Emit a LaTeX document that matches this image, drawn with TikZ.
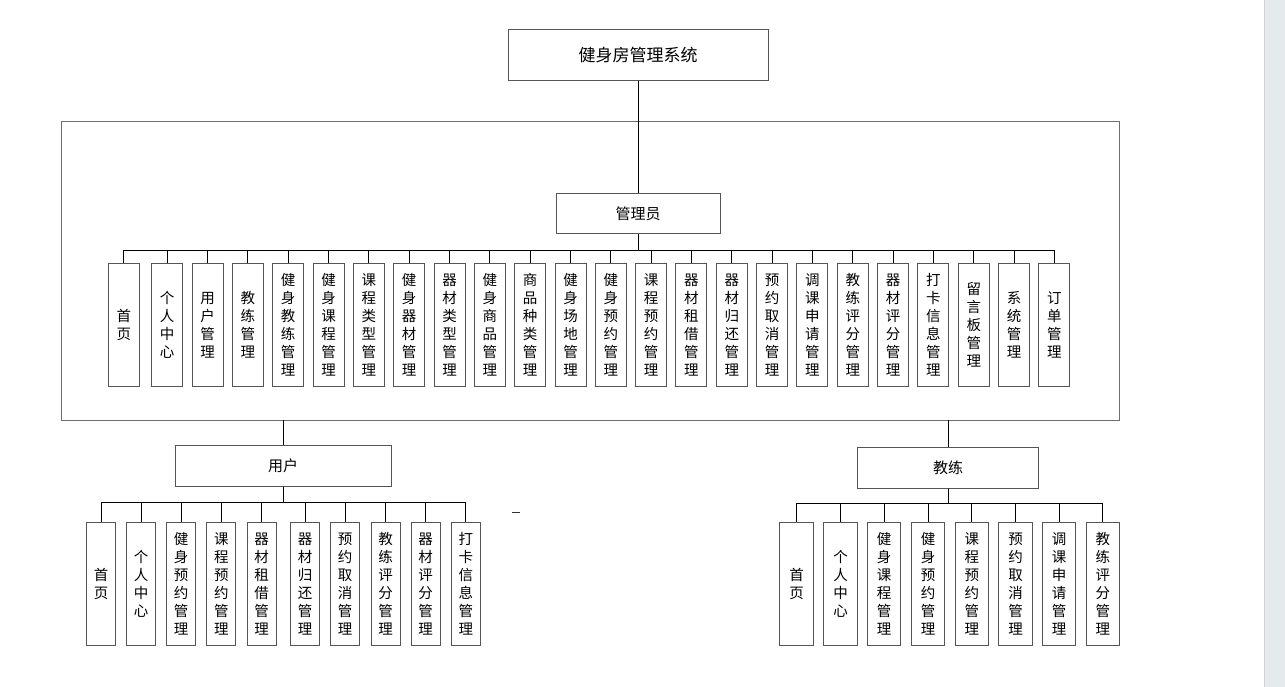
\documentclass[tikz,border=0pt]{standalone}
\usepackage{fontspec}
\newfontfamily\cjk{Noto Sans CJK SC}
\definecolor{boxgray}{HTML}{555555}
\definecolor{framegray}{HTML}{6E6E6E}
\definecolor{stripgray}{HTML}{E5EAED}
\begin{document}
\begin{tikzpicture}[x=1pt,y=-1pt,
  box/.style={draw=boxgray, line width=1pt, fill=white, inner sep=0pt,
    font=\cjk\fontsize{15}{18}\selectfont},
  leaf/.style={box, align=center, font=\cjk\fontsize{14.5}{18}\selectfont, minimum height=122.5pt},
  conn/.style={line width=0.9pt, draw=black}]
\useasboundingbox (0,0) rectangle (1285,687);
\fill[white] (0,0) rectangle (1285,687);
\fill[stripgray] (1264,0) rectangle (1285,687);
\draw[line width=0.6pt, black!18] (1264,0) -- (1264,687);

% frame
\draw[framegray, line width=1pt] (61,122) rectangle (1119.5,420);

% top
\node[box, font=\cjk\fontsize{17}{18}\selectfont, minimum width=260pt, minimum height=51pt] (sys) at (638,55.5) {健身房管理系统};
\node[box, minimum width=164pt, minimum height=40pt] (admin) at (638,214) {管理员};
\draw[conn] (sys.south) -- (admin.north);

% admin children
\coordinate (abus) at (638,250);
\foreach \t [count=\i] in {{首\\页},{个\\人\\中\\心},{用\\户\\管\\理},{教\\练\\管\\理},{健\\身\\教\\练\\管\\理},{健\\身\\课\\程\\管\\理},{课\\程\\类\\型\\管\\理},{健\\身\\器\\材\\管\\理},{器\\材\\类\\型\\管\\理},{健\\身\\商\\品\\管\\理},{商\\品\\种\\类\\管\\理},{健\\身\\场\\地\\管\\理},{健\\身\\预\\约\\管\\理},{课\\程\\预\\约\\管\\理},{器\\材\\租\\借\\管\\理},{器\\材\\归\\还\\管\\理},{预\\约\\取\\消\\管\\理},{调\\课\\申\\请\\管\\理},{教\\练\\评\\分\\管\\理},{器\\材\\评\\分\\管\\理},{打\\卡\\信\\息\\管\\理},{留\\言\\板\\管\\理},{系\\统\\管\\理},{订\\单\\管\\理}}{
  \pgfmathsetmacro\cx{\i==1 ? 123.8 : 167.2+(\i-2)*40.33}
  \node[leaf, minimum width=31pt] (a\i) at (\cx,325) {\t};
  \draw[conn] (admin.south) -- (abus) -| (a\i.north);
}

% user
\coordinate (fu) at (283,420);
\node[box, minimum width=216pt, minimum height=41pt] (user) at (283,465.5) {用户};
\draw[conn] (fu) -- (user.north);
\coordinate (ubus) at (283,502.5);
\foreach \t/\cx [count=\i] in {{首\\页}/101.2,{个\\人\\中\\心}/141.2,{健\\身\\预\\约\\管\\理}/181.2,{课\\程\\预\\约\\管\\理}/221.3,{器\\材\\租\\借\\管\\理}/261.5,{器\\材\\归\\还\\管\\理}/305.2,{预\\约\\取\\消\\管\\理}/345.2,{教\\练\\评\\分\\管\\理}/385.5,{器\\材\\评\\分\\管\\理}/425.5,{打\\卡\\信\\息\\管\\理}/465.8}{
  \node[leaf, minimum width=29pt] (u\i) at (\cx,584) {\t};
  \draw[conn] (user.south) -- (ubus) -| (u\i.north);
}

% coach
\coordinate (fc) at (948,420);
\node[box, minimum width=181pt, minimum height=41pt] (coach) at (948,467.5) {教练};
\draw[conn] (fc) -- (coach.north);
\coordinate (cbus) at (948,503.5);
\foreach \t/\cx [count=\i] in {{首\\页}/796.7,{个\\人\\中\\心}/840.5,{健\\身\\课\\程\\管\\理}/884.2,{健\\身\\预\\约\\管\\理}/928,{课\\程\\预\\约\\管\\理}/971.8,{预\\约\\取\\消\\管\\理}/1015.5,{调\\课\\申\\请\\管\\理}/1059.2,{教\\练\\评\\分\\管\\理}/1102.8}{
  \node[leaf, minimum width=33.5pt] (c\i) at (\cx,584) {\t};
  \draw[conn] (coach.south) -- (cbus) -| (c\i.north);
}

% stray dash
\coordinate (d1) at (512,512);
\coordinate (d2) at (520,512);
\draw[line width=0.8pt, black!80] (d1) -- (d2);
\end{tikzpicture}
\end{document}
